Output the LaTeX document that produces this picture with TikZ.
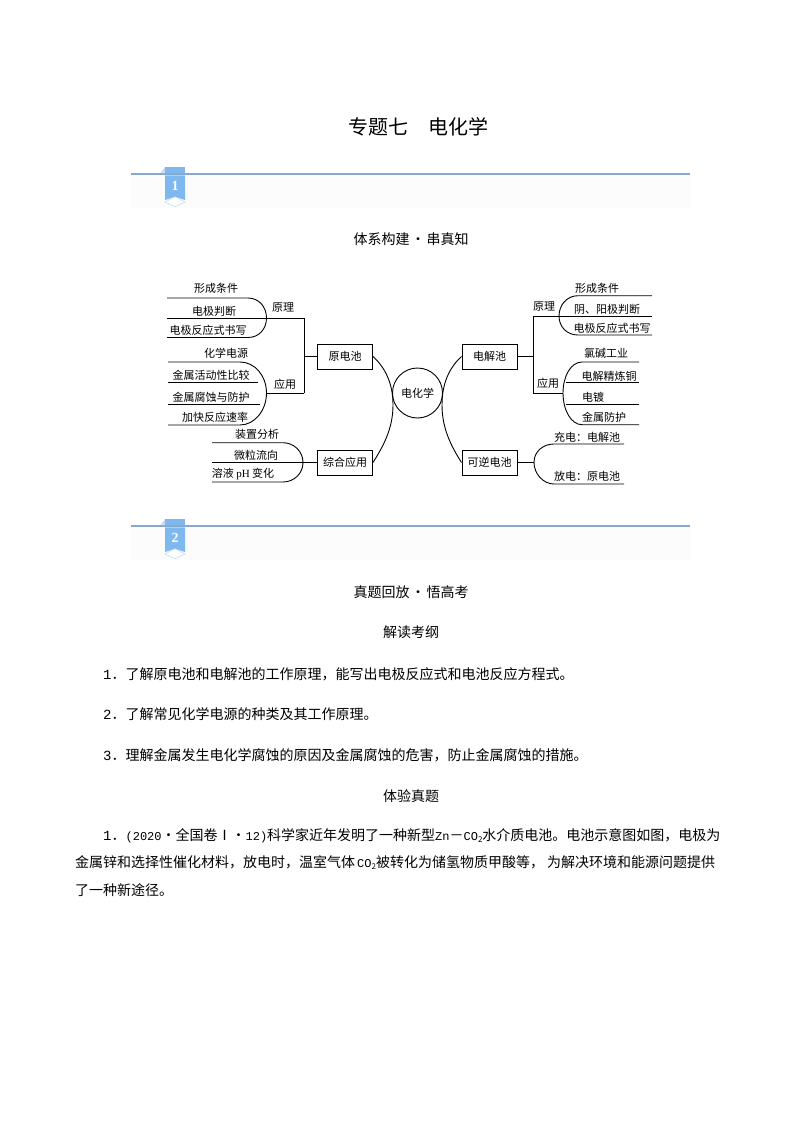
\documentclass[tikz,border=0pt]{standalone}
\usepackage{fontspec}
\setmainfont{Noto Sans CJK SC}
\newfontfamily\latn{Liberation Mono}
\newfontfamily\latr{Liberation Serif}
\newcommand{\subtwo}{\raisebox{-2pt}{\fontsize{8pt}{8pt}\selectfont 2}}
\newcommand{\smallmono}{\fontsize{12pt}{14pt}\selectfont\latn}
\tikzset{
  leaf/.style={inner sep=0pt, font=\fontsize{11pt}{12pt}\selectfont},
  topic/.style={draw,rectangle,line width=1pt,inner sep=0pt,minimum width=55pt,minimum height=25pt,
                font=\fontsize{11pt}{12pt}\selectfont},
  hub/.style={draw,circle,line width=0.9pt,inner sep=0pt,minimum size=50pt,
              font=\fontsize{11pt}{12pt}\selectfont},
  bodyline/.style={anchor=west,inner sep=0pt,font=\fontsize{14pt}{16pt}\selectfont},
  headline/.style={inner sep=0pt,font=\fontsize{14pt}{16pt}\selectfont},
  link/.style={line width=0.9pt},
  rulebar/.style={draw=rulecol,line width=1.4pt}}
\definecolor{rulecol}{HTML}{86A9CE}
\definecolor{ribbon}{HTML}{7FB7EF}
\definecolor{fold}{HTML}{BFD8F3}
\definecolor{bandbg}{HTML}{FCFCFC}

\begin{document}
\begin{tikzpicture}[x=1pt,y=-1pt]
\useasboundingbox [fill=white] (0,0) rectangle (794,1123);
\node (title) at (418,127) [inner sep=0pt,font=\fontsize{20pt}{22pt}\selectfont] {专题七\hspace{20pt}电化学};

% first band
\fill [bandbg] (131,174) rectangle (690,208);
\draw [rulebar] (131,174) -- (690,174);
\fill [fold] (160.7,172.7) -- (165,167.3) -- (165,172.7) -- cycle;
\fill [ribbon] (165,167.3) rectangle (185,172.7);
\fill [ribbon] (165,175.3) -- (185,175.3) -- (185,200) -- (175,196.7) -- (165,200) -- cycle;
\draw [fold,fill=white,line width=0.5pt] (175,196.7) -- (185,202) -- (175,206.7) -- (165,202) -- cycle;
\node (num1) at (175,186) [inner sep=0pt,text=white,font=\fontsize{14pt}{14pt}\selectfont\latr\bfseries] {1};

\node (head1) at (411,239) [headline] {体系构建\hspace{1.5pt}·\hspace{1.5pt}串真知};

% centre
\node (core) at (417.5,393) [hub] {电化学};
\node (yuan) at (345,356.5) [topic] {原电池};
\node (zonghe) at (345,462.5) [topic] {综合应用};
\node (jie) at (489.5,356.5) [topic] {电解池};
\node (keni) at (489.5,462.5) [topic] {可逆电池};
\coordinate (arcL) at (393,405);
\coordinate (arcR) at (442,405);
\draw [link] (yuan.east) .. controls +(12,11) and +(0,-22) .. (arcL) .. controls +(0,24) and +(10,-16) .. (zonghe.east);
\draw [link] (jie.west) .. controls +(-12,11) and +(0,-22) .. (arcR) .. controls +(0,24) and +(-10,-16) .. (keni.west);

% left side
\coordinate (ljoin) at (304,356.5);
\coordinate (lup) at (304,318);
\coordinate (ldown) at (304,393);
\coordinate (la1) at (167,298);
\coordinate (la2) at (248,298);
\coordinate (la3) at (266.5,318);
\coordinate (la4) at (248,337.5);
\coordinate (la5) at (167,337.5);
\coordinate (la6) at (167,318);
\draw [link] (yuan.west) -- (ljoin);
\draw [link] (lup) -- (ldown);
\draw [link] (lup) -- (la6);
\draw [link] (la1) -- (la2) .. controls +(11,0) and +(0,-11) .. (la3) .. controls +(0,11) and +(11,0) .. (la4) -- (la5);
\coordinate (lb1) at (168,362);
\coordinate (lb2) at (240,362);
\coordinate (lb3) at (266.5,393);
\coordinate (lb4) at (240,425);
\coordinate (lb5) at (168,425);
\coordinate (lb6) at (168,382.7);
\coordinate (lb7) at (258,382.7);
\coordinate (lb8) at (168,404.3);
\coordinate (lb9) at (260,404.3);
\draw [link] (ldown) -- (lb3);
\draw [link] (lb1) -- (lb2) .. controls +(15,0) and +(0,-17) .. (lb3) .. controls +(0,17) and +(15,0) .. (lb4) -- (lb5);
\draw [link] (lb6) -- (lb7);
\draw [link] (lb8) -- (lb9);
\coordinate (lc1) at (212,442.7);
\coordinate (lc2) at (283,442.7);
\coordinate (lc3) at (303,462.5);
\coordinate (lc4) at (283,482);
\coordinate (lc5) at (212,482);
\coordinate (lc6) at (212,462.5);
\draw [link] (lc1) -- (lc2) .. controls +(11,0) and +(0,-11) .. (lc3) .. controls +(0,11) and +(11,0) .. (lc4) -- (lc5);
\draw [link] (lc6) -- (zonghe.west);

\node (l1) at (216,288) [leaf] {形成条件};
\node (l2) at (214,311) [leaf] {电极判断};
\node (l3) at (208,330) [leaf] {电极反应式书写};
\node (l4) at (226,353) [leaf] {化学电源};
\node (l5) at (211,375) [leaf] {金属活动性比较};
\node (l6) at (211,397) [leaf] {金属腐蚀与防护};
\node (l7) at (215,417) [leaf] {加快反应速率};
\node (l8) at (283,308) [leaf] {原理};
\node (l9) at (285,384) [leaf] {应用};
\node (l10) at (257,434) [leaf] {装置分析};
\node (l11) at (256,455) [leaf] {微粒流向};
\node (l12) at (243,474) [leaf] {溶液 {\latr pH} 变化};

% right side
\coordinate (rjoin) at (533,356.5);
\coordinate (rup) at (533,316);
\coordinate (rdown) at (533,393);
\coordinate (ra1) at (652,295.7);
\coordinate (ra2) at (578,295.7);
\coordinate (ra3) at (559,316);
\coordinate (ra4) at (578,335);
\coordinate (ra5) at (652,335);
\coordinate (ra6) at (652,316);
\draw [link] (jie.east) -- (rjoin);
\draw [link] (rup) -- (rdown);
\draw [link] (rup) -- (ra3);
\draw [link] (ra3) -- (ra6);
\draw [link] (ra1) -- (ra2) .. controls +(-11,0) and +(0,-11) .. (ra3) .. controls +(0,11) and +(-11,0) .. (ra4) -- (ra5);
\coordinate (rb1) at (639,362);
\coordinate (rb2) at (582,362);
\coordinate (rb3) at (563,393);
\coordinate (rb4) at (582,424.7);
\coordinate (rb5) at (639,424.7);
\coordinate (rb6) at (639,382);
\coordinate (rb7) at (566,382);
\coordinate (rb8) at (639,404);
\coordinate (rb9) at (566,404);
\draw [link] (rdown) -- (rb3);
\draw [link] (rb1) -- (rb2) .. controls +(-11,0) and +(0,-17) .. (rb3) .. controls +(0,17) and +(-11,0) .. (rb4) -- (rb5);
\draw [link] (rb6) -- (rb7);
\draw [link] (rb8) -- (rb9);
\coordinate (rc1) at (624,444);
\coordinate (rc2) at (554,444);
\coordinate (rc3) at (534,462.5);
\coordinate (rc4) at (554,484);
\coordinate (rc5) at (624,484);
\draw [link] (keni.east) -- (rc3);
\draw [link] (rc1) -- (rc2) .. controls +(-11,0) and +(0,-11) .. (rc3) .. controls +(0,11) and +(-11,0) .. (rc4) -- (rc5);

\node (r1) at (597,288) [leaf] {形成条件};
\node (r2) at (607,309) [leaf] {阴、阳极判断};
\node (r3) at (612,328) [leaf] {电极反应式书写};
\node (r4) at (606,353) [leaf] {氯碱工业};
\node (r5) at (609,376) [leaf] {电解精炼铜};
\node (r6) at (593,397) [leaf] {电镀};
\node (r7) at (604,417) [leaf] {金属防护};
\node (r8) at (544,307) [leaf] {原理};
\node (r9) at (548,383) [leaf] {应用};
\node (r10) at (587,437) [leaf] {充电：电解池};
\node (r11) at (587,476) [leaf] {放电：原电池};

% second band
\fill [bandbg] (131,526) rectangle (690,560);
\draw [rulebar] (131,526) -- (690,526);
\fill [fold] (160.7,524.7) -- (165,519.3) -- (165,524.7) -- cycle;
\fill [ribbon] (165,519.3) rectangle (185,524.7);
\fill [ribbon] (165,527.3) -- (185,527.3) -- (185,552) -- (175,548.7) -- (165,552) -- cycle;
\draw [fold,fill=white,line width=0.5pt] (175,548.7) -- (185,554) -- (175,558.7) -- (165,554) -- cycle;
\node (num2) at (175,538) [inner sep=0pt,text=white,font=\fontsize{14pt}{14pt}\selectfont\latr\bfseries] {2};

\node (head2) at (411,592) [headline] {真题回放\hspace{1.5pt}·\hspace{1.5pt}悟高考};
\node (head3) at (411,632) [headline] {解读考纲};
\node (item1) at (103,674) [bodyline] {{\latn 1}．了解原电池和电解池的工作原理，能写出电极反应式和电池反应方程式。};
\node (item2) at (103,714) [bodyline] {{\latn 2}．了解常见化学电源的种类及其工作原理。};
\node (item3) at (103,755) [bodyline] {{\latn 3}．理解金属发生电化学腐蚀的原因及金属腐蚀的危害，防止金属腐蚀的措施。};
\node (head4) at (411,796) [headline] {体验真题};
\node (q1) at (103,836) [bodyline] {{\latn 1}．{\smallmono(2020}·全国卷Ⅰ·{\smallmono 12)}科学家近年发明了一种新型{\smallmono Zn}－{\smallmono CO}\subtwo 水介质电池。电池示意图如图，电极为};
\node (q2) at (75,863) [bodyline] {金属锌和选择性催化材料，放电时，温室气体{\smallmono\,CO}\subtwo 被转化为储氢物质甲酸等，\hspace{3pt}为解决环境和能源问题提供};
\node (q3) at (75,890) [bodyline] {了一种新途径。};
\end{tikzpicture}
\end{document}
